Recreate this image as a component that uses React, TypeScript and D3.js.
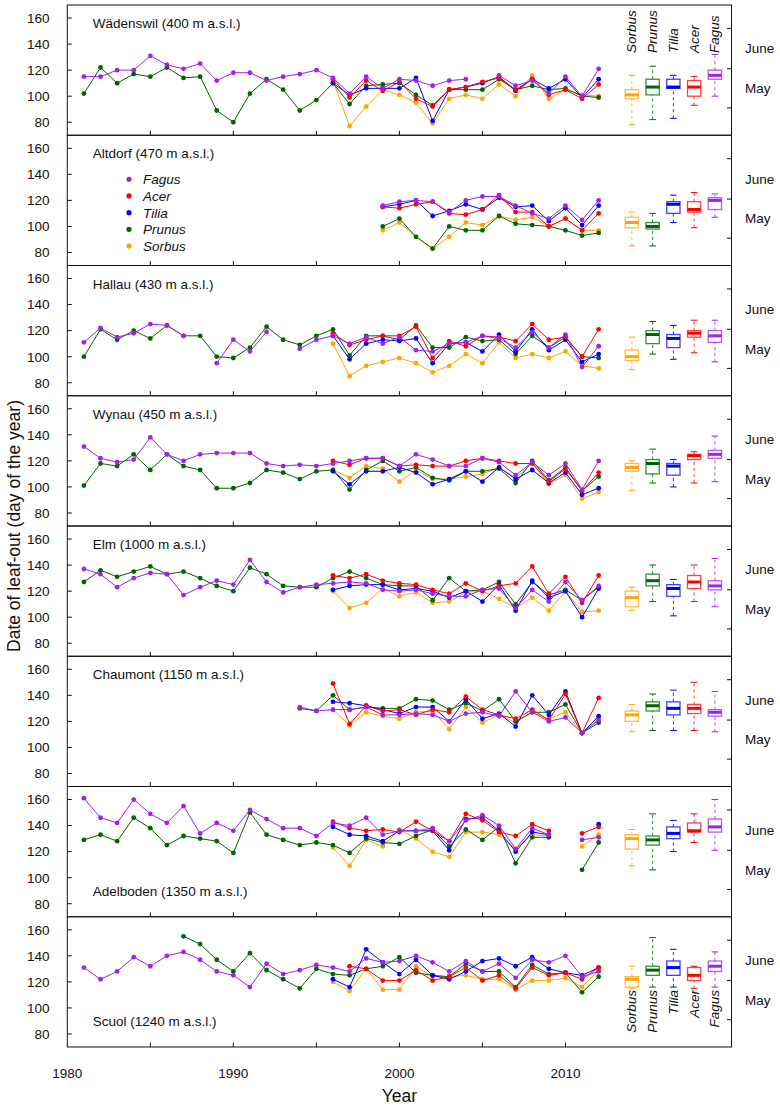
import React from 'react';
import * as d3 from 'd3';

// years of observation
const years = [
  1981, 1982, 1983, 1984, 1985, 1986, 1987, 1988, 1989, 1990, 1991, 1992, 1993, 1994, 1995, 1996,
  1997, 1998, 1999, 2000, 2001, 2002, 2003, 2004, 2005, 2006, 2007, 2008, 2009, 2010, 2011, 2012,
];

// a series that starts later than 1981 is padded with nulls
const fromYear = (start: number, vals: (number | null)[]) =>
  years.map((yr) => (yr < start ? null : vals[yr - start] ?? null));

const species = ['Fagus', 'Acer', 'Tilia', 'Prunus', 'Sorbus'];
const speciesColors = ['#A020F0', '#FF0000', '#0000FF', '#006400', '#FFA500'];
const boxOrder = ['Sorbus', 'Prunus', 'Tilia', 'Acer', 'Fagus'];
const boxPos = [2014, 2015.25, 2016.5, 2017.75, 2019];

const siteNames = [
  'Wädenswil (400 m a.s.l.)',
  'Altdorf (470 m a.s.l.)',
  'Hallau (430 m a.s.l.)',
  'Wynau (450 m a.s.l.)',
  'Elm (1000 m a.s.l.)',
  'Chaumont (1150 m a.s.l.)',
  'Adelboden (1350 m a.s.l.)',
  'Scuol (1240 m a.s.l.)',
];
const labelAtBottom = [false, false, false, false, false, false, true, true];

// Wädenswil
const wadFagus = [115, 115, 120, 120, 131, 124, 121, 125, 112, 118, 118, 112, 115, 117, 120, 114, 102, 115, 106, 113, 112, 108, 112, 113, null, 116, 108, 112, 102, 115, 100, 121];
const wadPrunus = [102, 122, 110, 117, 115, 122, 114, 115, 89, 80, 102, 113, 105, 89, 97, 110, 94, 108, 109, 110, 101, 93, 105, 105, 105, 113, 105, 108, 105, 106, 100, 99];
const wadTilia = fromYear(1996, [110, 101, 106, 106, 106, 114, 81, 105, 107, 110, 115, 104, 113, 106, 113, 99, 113]);
const wadAcer = fromYear(1996, [113, 99, 112, 104, 111, 98, 92, 105, 107, 111, 114, 105, 113, 101, 105, 98, 109]);
const wadSorbus = fromYear(1996, [112, 77, 92, 105, 101, 95, 79, 98, 101, 98, 109, 100, 116, 98, 105, 101, 100]);

// Altdorf
const altFagus = fromYear(1999, [116, 119, 120, 119, 111, 120, 123, 123, 116, 110, 106, 116, 105, 120]);
const altAcer = fromYear(1999, [115, 114, 117, 119, 110, 109, 113, 124, 111, 111, 100, 106, 97, 110]);
const altTilia = fromYear(1999, [115, 117, 120, 108, 112, 117, 113, 122, 115, 116, 104, 114, 101, 116]);
const altPrunus = fromYear(1999, [100, 106, 92, 83, 100, 97, 97, 108, 102, 101, 100, 97, 93, 95]);
const altSorbus = fromYear(1999, [97, 103, 92, 83, 92, 103, 101, 108, 105, 107, 100, 106, 97, 97]);

// Hallau
const halFagus = [111, 122, 115, 118, 125, 124, 116, null, 95, 113, 104, 119, null, 106, 113, 116, 110, 115, 110, 115, 105, 104, 110, 111, 116, 114, 107, 119, 107, 117, 92, 108];
const halPrunus = [100, 121, 113, 120, 114, 124, 116, 116, 100, 99, 107, 123, 113, 109, 116, 121, 101, 116, 116, 113, 124, 107, 107, 115, 112, 113, 102, 116, 107, 115, 100, 99];
const halAcer = fromYear(1996, [118, 109, 113, 116, 116, 123, 99, 112, 108, 116, 115, 112, 125, 113, 115, 100, 121]);
const halTilia = fromYear(1996, [116, 98, 110, 113, 112, 114, 95, 110, 111, 104, 117, 104, 121, 105, 113, 96, 102]);
const halSorbus = fromYear(1996, [110, 85, 93, 96, 99, 95, 88, 93, 102, 95, 111, 99, 102, 99, 104, 93, 91]);

// Wynau
const wynFagus = [131, 122, 119, 121, 138, 125, 120, 125, 126, 126, 126, 118, 116, 117, 116, 118, 120, 122, 122, 116, 125, 121, 116, 116, 122, 119, 109, 119, 109, 118, 98, 120];
const wynPrunus = [101, 118, 116, 125, 113, 125, 116, 113, 99, 99, 103, 113, 111, 106, 112, 113, 98, 113, 120, 112, 115, 107, 105, 112, 112, 114, 103, 120, 105, 115, 97, 108];
const wynAcer = fromYear(1996, [120, 117, 122, 122, 116, 117, 116, 116, 120, 122, 120, 118, 118, 104, 114, 97, 111]);
const wynTilia = fromYear(1996, [112, 102, 112, 112, 115, 111, 102, 106, 112, 104, 115, 106, 113, 103, 111, 94, 99]);
const wynSorbus = fromYear(1996, [113, 107, 116, 114, 104, 113, 106, 106, 108, 110, 115, 107, 118, 102, 109, 91, 96]);

// Elm
const elmFagus = [137, 133, 123, 130, 134, 133, 117, 123, 128, 125, 144, 127, 119, 123, 125, 126, 127, 126, 121, 120, 121, 118, 116, 116, 121, 122, 107, 121, 112, 127, 113, 124];
const elmPrunus = [127, 136, 131, 135, 139, 133, 135, 130, 124, 120, 138, 133, 124, 123, 123, 130, 135, 130, 125, 124, 124, 113, 130, 120, 121, 127, 110, 127, 117, 121, 113, 123];
const elmAcer = fromYear(1996, [132, 130, 133, 128, 126, 125, 121, 118, 126, 120, 124, 126, 139, 118, 131, 111, 132]);
const elmTilia = fromYear(1996, [121, 124, 125, 125, 121, 122, 120, 115, 120, 112, 125, 105, 128, 115, 120, 100, 122]);
const elmSorbus = fromYear(1996, [120, 107, 111, 122, 116, 119, 111, 112, 119, 120, 114, 107, 115, 105, 120, 104, 105]);

// Chaumont
const chaFagus = fromYear(1994, [131, 128, 129, 129, 131, 125, 125, 126, 125, 120, 126, 127, 124, 143, 127, 120, 123, 111, 121]);
const chaPrunus = fromYear(1994, [130, 128, 140, 129, 131, 130, 130, 137, 136, 129, 134, 128, 137, 120, 127, 127, 133, 111, 119]);
const chaAcer = fromYear(1996, [149, 118, 132, 128, 129, 125, 129, 127, 139, 129, 125, 122, 129, 121, 141, 111, 138]);
const chaTilia = fromYear(1996, [135, 134, 132, 129, 126, 131, 131, 120, 137, 122, 126, 116, 140, 125, 143, 111, 124]);
const chaSorbus = fromYear(1996, [129, 117, 127, 124, 122, 127, 128, 114, 131, 119, 125, 119, 127, 122, 127, 111, 122]);

// Adelboden
const adeFagus = [161, 146, 142, 160, 149, 142, 155, 134, 142, 136, 152, 145, 138, 138, 132, 142, 140, 146, 133, 136, 136, 138, 128, 144, 148, 140, 122, 138, 133, null, 129, 131];
const adePrunus = [129, 133, 128, 146, 138, 125, 132, 130, 128, 119, 150, 133, 129, 125, 127, 125, 119, 130, 127, 126, 132, 137, 124, 137, 129, 139, 111, 131, 131, null, 106, 127];
const adeAcer = fromYear(1996, [143, 138, 136, 137, 135, 143, 136, 128, 149, 144, 135, 132, 141, 136, null, 134, 139]);
const adeTilia = fromYear(1996, [139, 133, 132, 128, 136, 136, 136, 121, 145, 146, 136, 120, 135, 133, null, null, 141]);
const adeSorbus = fromYear(1996, [123, 109, 129, 124, 137, 130, 120, 116, 135, 135, 133, 122, 133, 132, null, 124, 133]);

// Scuol
const scuFagus = [131, 122, 128, 139, 132, 140, 143, 137, 128, 125, 116, 134, 126, 129, 133, 131, 128, 138, 135, 136, 140, 135, 128, 136, 128, 134, 123, 137, 135, 140, 124, 128];
const scuPrunus = fromYear(1987, [155, 149, 137, 128, 142, 129, 122, 115, 130, 126, 125, 130, 132, 139, 127, 125, 124, 134, 128, 128, 116, 133, 126, 127, 112, 124]);
const scuAcer = fromYear(1997, [132, 130, 121, 121, 129, 121, 124, 131, 121, 125, 115, 131, 125, 127, 122, 131]);
const scuTilia = fromYear(1996, [122, 116, 145, 135, 126, 137, 125, 122, 128, 136, 138, 132, 139, 130, 127, 125, 131]);
const scuSorbus = fromYear(1996, [120, 113, 130, 114, 114, 132, 124, 124, 125, 122, 122, 114, 121, 121, 123, 116, 129]);

// series per site, in the order of `species`
const siteSeries = [
  [wadFagus, wadAcer, wadTilia, wadPrunus, wadSorbus],
  [altFagus, altAcer, altTilia, altPrunus, altSorbus],
  [halFagus, halAcer, halTilia, halPrunus, halSorbus],
  [wynFagus, wynAcer, wynTilia, wynPrunus, wynSorbus],
  [elmFagus, elmAcer, elmTilia, elmPrunus, elmSorbus],
  [chaFagus, chaAcer, chaTilia, chaPrunus, chaSorbus],
  [adeFagus, adeAcer, adeTilia, adePrunus, adeSorbus],
  [scuFagus, scuAcer, scuTilia, scuPrunus, scuSorbus],
];

// boxplot stats [low whisker, q1, median, q3, high whisker], in the order of `boxOrder`
const wadBox = [[78, 98, 101, 105, 116], [82, 101, 107, 113, 123], [83, 106, 107, 113, 116], [93, 100, 107, 112, 115], [100, 113, 116, 120, 132]];
const altBox = [[85, 99, 103, 107, 111], [85, 98, 100, 103, 110], [103, 110, 117, 119, 124], [99, 111, 113, 119, 126], [107, 113, 120, 122, 125]];
const halBox = [[90, 97, 100, 105, 115], [102, 110, 117, 120, 127], [98, 107, 114, 117, 124], [103, 115, 118, 120, 128], [96, 111, 116, 120, 128]];
const wynBox = [[97, 112, 115, 118, 120], [103, 110, 118, 121, 129], [100, 109, 116, 118, 121], [103, 121, 124, 125, 127], [104, 122, 125, 128, 139]];
const elmBox = [[105, 108, 115, 120, 123], [112, 124, 128, 133, 140], [101, 116, 122, 125, 129], [112, 122, 127, 132, 140], [108, 121, 124, 128, 145]];
const chaBox = [[112, 120, 125, 128, 133], [113, 128, 132, 135, 141], [113, 125, 130, 135, 144], [113, 126, 130, 133, 150], [112, 124, 127, 129, 143]];
const adeBox = [[109, 122, 130, 133, 137], [106, 125, 129, 132, 149], [120, 130, 134, 139, 144], [127, 135, 136, 142, 149], [121, 135, 139, 145, 160]];
const scuBox = [[115, 116, 122, 124, 132], [116, 125, 129, 132, 154], [116, 125, 131, 136, 145], [115, 121, 125, 131, 132], [116, 128, 132, 136, 143]];
const siteBoxes = [wadBox, altBox, halBox, wynBox, elmBox, chaBox, adeBox, scuBox];

const yTicks = [80, 100, 120, 140, 160];
const xTicks = [1985, 1990, 1995, 2000, 2005, 2010];
const xLabels = [1980, 1990, 2000, 2010];
const monthTicks = [91, 121, 152];
const monthLabels = [
  { name: 'June', day: 136.5 },
  { name: 'May', day: 106 },
];

const W = 780;
const H = 1108;
const left = 67.3;
const right = 731.5;
const top0 = 5;
const panelH = 130.25;
const font = '"Liberation Sans", Arial, Helvetica, sans-serif';

const colorOf = (sp: string) => speciesColors[species.indexOf(sp)];

const App: React.FC = () => {
  const x = d3.scaleLinear().domain([1980, 2020]).range([left, right]);
  const bw = x(1980.8) - x(1980);
  const drawOrder = [4, 3, 2, 1, 0];

  return (
    <svg width={W} height={H} style={{ position: 'absolute', left: 0, top: 0, background: '#fff' }} fontFamily={font}>
      <rect width={W} height={H} fill="#fff" />
      {siteNames.map((name, i) => {
        const top = top0 + i * panelH;
        const bottom = top + panelH;
        const y = d3.scaleLinear().domain([70, 170]).range([bottom, top]);
        const line = d3
          .line<[number, number | null]>()
          .defined((d) => d[1] != null)
          .x((d) => x(d[0]))
          .y((d) => y(d[1] as number));
        return (
          <g key={name}>
            {/* time series */}
            {drawOrder.map((k) => {
              const vals = siteSeries[i][k];
              const pts = years.map((yr, j) => [yr, vals[j]] as [number, number | null]);
              return (
                <g key={species[k]}>
                  <path d={line(pts) || ''} fill="none" stroke={speciesColors[k]} strokeWidth={1} />
                  {pts
                    .filter((d) => d[1] != null)
                    .map((d) => (
                      <circle key={d[0]} cx={x(d[0])} cy={y(d[1] as number)} r={2.4} fill={speciesColors[k]} />
                    ))}
                </g>
              );
            })}
            {/* boxplots */}
            {boxOrder.map((sp, j) => {
              const [lo, q1, med, q3, hi] = siteBoxes[i][j];
              const cx = x(boxPos[j]);
              const c = colorOf(sp);
              return (
                <g key={sp}>
                  <line x1={cx} x2={cx} y1={y(lo)} y2={y(q1)} stroke={c} strokeDasharray="3,3" strokeOpacity={0.8} />
                  <line x1={cx} x2={cx} y1={y(q3)} y2={y(hi)} stroke={c} strokeDasharray="3,3" strokeOpacity={0.8} />
                  <line x1={cx - 3.3} x2={cx + 3.3} y1={y(lo)} y2={y(lo)} stroke={c} />
                  <line x1={cx - 3.3} x2={cx + 3.3} y1={y(hi)} y2={y(hi)} stroke={c} />
                  <rect x={cx - bw / 2} y={y(q3)} width={bw} height={y(q1) - y(q3)} fill="#fff" stroke={c} strokeWidth={1.3} strokeOpacity={0.75} />
                  <line x1={cx - bw / 2} x2={cx + bw / 2} y1={y(med)} y2={y(med)} stroke={c} strokeWidth={3} />
                </g>
              );
            })}
            {/* frame */}
            <rect x={left} y={top} width={right - left} height={panelH} fill="none" stroke="#111" strokeWidth={1} />
            {yTicks.map((t) => (
              <g key={t}>
                <line x1={left} x2={left + 4.5} y1={y(t)} y2={y(t)} stroke="#111" />
                <text x={49.5} y={y(t)} dy="0.36em" textAnchor="end" fontSize={13.5} fill="#111">
                  {t}
                </text>
              </g>
            ))}
            {xTicks.map((t) => (
              <line key={t} x1={x(t)} x2={x(t)} y1={bottom} y2={bottom - 4.5} stroke="#111" />
            ))}
            {monthTicks.map((t) => (
              <line key={t} x1={right} x2={right - 4.5} y1={y(t)} y2={y(t)} stroke="#111" />
            ))}
            {monthLabels.map((m) => (
              <text key={m.name} x={745} y={y(m.day)} dy="0.36em" fontSize={13.5} fill="#111">
                {m.name}
              </text>
            ))}
            <text x={left + 25.5} y={labelAtBottom[i] ? bottom - 21 : top + 23} fontSize={13.5} fill="#111">
              {name}
            </text>
            {/* species names above / below the boxplots */}
            {i === 0 &&
              boxOrder.map((sp, j) => (
                <text
                  key={sp}
                  transform={`translate(${x(boxPos[j]) + 4.5},${top + 48}) rotate(-90)`}
                  fontSize={13.5}
                  fontStyle="italic"
                  fill="#111"
                >
                  {sp}
                </text>
              ))}
            {i === siteNames.length - 1 &&
              boxOrder.map((sp, j) => (
                <text
                  key={sp}
                  transform={`translate(${x(boxPos[j]) + 4.5},${bottom - 57}) rotate(-90)`}
                  textAnchor="end"
                  fontSize={13.5}
                  fontStyle="italic"
                  fill="#111"
                >
                  {sp}
                </text>
              ))}
            {/* legend in the Altdorf panel */}
            {i === 1 &&
              species.map((sp, k) => (
                <g key={sp} transform={`translate(129,${top + 44 + k * 16.7})`}>
                  <circle r={2.6} fill={speciesColors[k]} />
                  <text x={14} dy="0.36em" fontSize={13.5} fontStyle="italic" fill="#111">
                    {sp}
                  </text>
                </g>
              ))}
          </g>
        );
      })}
      {xLabels.map((t) => (
        <text key={t} x={x(t)} y={1078} textAnchor="middle" fontSize={13.5} fill="#111">
          {t}
        </text>
      ))}
      <text x={x(2000)} y={1102} textAnchor="middle" fontSize={17.5} fill="#111">
        Year
      </text>
      <text
        transform={`translate(20,${(top0 + top0 + 8 * panelH) / 2}) rotate(-90)`}
        textAnchor="middle"
        fontSize={17.5}
        fill="#111"
      >
        Date of leaf-out (day of the year)
      </text>
    </svg>
  );
};

export default App;
